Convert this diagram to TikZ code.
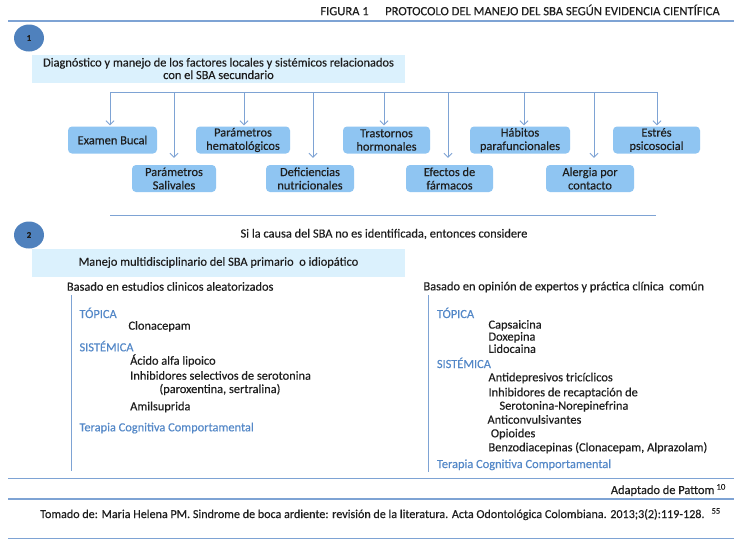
\documentclass[tikz,border=0pt]{standalone}
\usepackage{fontspec}
\setmainfont{Carlito}[FakeBold=0.3]
\usetikzlibrary{arrows.meta,shapes.geometric}
\definecolor{linec}{RGB}{126,163,212}
\definecolor{boxc}{RGB}{143,197,242}
\definecolor{bigc}{RGB}{219,241,253}
\definecolor{circc}{RGB}{79,129,189}
\definecolor{bluet}{RGB}{84,136,200}
\definecolor{txt}{RGB}{30,30,30}
\tikzset{
 sline/.style={draw=linec, line width=1.2pt},
 conn/.style={draw=linec, line width=0.9pt},
 arr/.style={conn, -{Straight Barb[length=4pt,width=8pt,line width=0.9pt]}},
 factor/.style={rounded corners=4pt, fill=boxc, align=center, minimum height=27pt, inner sep=0pt, font=\fontsize{12.4}{13.4}\selectfont, text=txt},
 bigbox/.style={fill=bigc, minimum width=373pt, minimum height=28pt, align=center, inner sep=0pt, text=txt, font=\fontsize{12.4}{12.5}\selectfont},
 num/.style={ellipse, fill=circc, minimum width=30pt, minimum height=27pt, inner sep=0pt, font=\fontsize{9}{10}\selectfont\bfseries, text=txt},
 tl/.style={anchor=west, inner sep=0pt, text height=8pt, text depth=2pt, text=txt},
 hd/.style={tl, text=bluet},
}
\begin{document}
\begin{tikzpicture}[x=1pt,y=-1pt,font=\fontsize{12.4}{13.4}\selectfont]
\useasboundingbox (0,0) rectangle (742,547);
\fill[white] (0,0) rectangle (742,547);
% title
\node[anchor=east, font=\fontsize{12.6}{13}\selectfont, text=txt, inner sep=0pt] (title) at (720,10) {FIGURA 1\hspace{1.3em}PROTOCOLO DEL MANEJO DEL SBA SEGÚN EVIDENCIA CIENTÍFICA};
\coordinate (l1a) at (8,21); \coordinate (l1b) at (734,21);
\draw[sline] (l1a) -- (l1b);
% section 1
\node[num] (n1) at (29,38) {1};
\node[bigbox] (b1) at (218.5,68.5) {Diagnóstico y manejo de los factores locales y sistémicos relacionados\\con el SBA secundario};
% factor boxes
\node[factor, minimum width=89pt] (f1) at (112.5,140) {Examen Bucal};
\node[factor, minimum width=94pt] (f3) at (243,140) {Parámetros\\hematológicos};
\node[factor, minimum width=87pt] (f5) at (386.5,140) {Trastornos\\hormonales};
\node[factor, minimum width=100pt] (f7) at (520,140) {Hábitos\\parafuncionales};
\node[factor, minimum width=87pt] (f9) at (656.5,140) {Estrés\\psicosocial};
\node[factor, minimum width=84pt] (f2) at (174,178.5) {Parámetros\\Salivales};
\node[factor, minimum width=88pt] (f4) at (310,178.5) {Deficiencias\\nutricionales};
\node[factor, minimum width=87pt] (f6) at (449.5,178.5) {Efectos de\\fármacos};
\node[factor, minimum width=88pt] (f8) at (590,178.5) {Alergia por\\contacto};
% connectors
\coordinate (a1) at (110,92);
\coordinate (a2) at (174,92);
\coordinate (a3) at (244,92);
\coordinate (a4) at (313,92);
\coordinate (a5) at (384,92);
\coordinate (a6) at (448,92);
\coordinate (a7) at (524,92);
\coordinate (a8) at (594,92);
\coordinate (a9) at (657,92);
\draw[conn] (a1) -- (a9);
\foreach \i in {1,3,5,7,9}{\draw[arr, shorten >=1pt] (a\i) -- (a\i |- f\i.north);}
\foreach \i in {2,4,6,8}{\draw[arr, shorten >=7pt] (a\i) -- (a\i |- f\i.north);}
% section 2
\coordinate (l2a) at (110,215); \coordinate (l2b) at (656,215);
\draw[conn] (l2a) -- (l2b);
\node[num] (n2) at (29,235) {2};
\node[text=txt, inner sep=0pt] (cause) at (384,234) {Si la causa del SBA no es identificada, entonces considere};
\node[bigbox] (b2) at (218.5,262.5) {Manejo multidisciplinario del SBA primario\ \ o idiopático};
% left column
\node[tl] (lhead) at (66.7,287.7) {Basado en estudios clinicos aleatorizados};
\coordinate (lv1) at (71.7,295); \coordinate (lv2) at (71.7,471);
\draw[conn] (lv1) -- (lv2);
\node[hd] (lt) at (79.3,315) {TÓPICA};
\node[tl] (l1) at (128.3,326.7) {Clonacepam};
\node[hd] (ls) at (79.3,348.3) {SISTÉMICA};
\node[tl] (l2) at (130,361.7) {Ácido alfa lipoico};
\node[tl] (l3) at (130,376.7) {Inhibidores selectivos de serotonina};
\node[tl] (l4) at (159.3,390) {(paroxentina, sertralina)};
\node[tl] (l5) at (130,407.3) {Amilsuprida};
\node[hd] (lc) at (79.3,428.3) {Terapia Cognitiva Comportamental};
% right column
\node[tl] (rhead) at (423.3,287.3) {Basado en opinión de expertos y práctica clínica\ \ común};
\coordinate (rv1) at (428.3,295); \coordinate (rv2) at (428.3,471.7);
\draw[conn] (rv1) -- (rv2);
\node[hd] (rt) at (436.7,315) {TÓPICA};
\node[tl] (r1) at (488.3,325.6) {Capsaicina};
\node[tl] (r2) at (488.3,337.6) {Doxepina};
\node[tl] (r3) at (488.3,349.9) {Lidocaina};
\node[hd] (rs) at (436.7,365) {SISTÉMICA};
\node[tl] (r4) at (488.3,378.3) {Antidepresivos tricíclicos};
\node[tl] (r5) at (488.3,393.3) {Inhibidores de recaptación de};
\node[tl] (r6) at (499.3,406.7) {Serotonina-Norepinefrina};
\node[tl] (r7) at (487.3,420.7) {Anticonvulsivantes};
\node[tl] (r8) at (490.7,434.3) {Opioides};
\node[tl] (r9) at (488.3,448.3) {Benzodiacepinas (Clonacepam, Alprazolam)};
\node[hd] (rc) at (436.7,465) {Terapia Cognitiva Comportamental};
% footer
\coordinate (l3a) at (8,478.3); \coordinate (l3b) at (734,478.3);
\draw[sline] (l3a) -- (l3b);
\node[anchor=east, inner sep=0pt, text=txt] (adapt) at (726,490) {Adaptado de Pattom\,\textsuperscript{10}};
\coordinate (l4a) at (8,499); \coordinate (l4b) at (734,499);
\draw[sline] (l4a) -- (l4b);
\node[tl, font=\fontsize{12.1}{13}\selectfont] (tomado) at (40,515) {Tomado de: Maria Helena PM. Sindrome de boca ardiente: revisión de la literatura. Acta Odontológica Colombiana. 2013;3(2):119-128.\hspace{7pt}\textsuperscript{55}};
\coordinate (l5a) at (8,538.3); \coordinate (l5b) at (734,538.3);
\draw[sline] (l5a) -- (l5b);
\end{tikzpicture}
\end{document}
